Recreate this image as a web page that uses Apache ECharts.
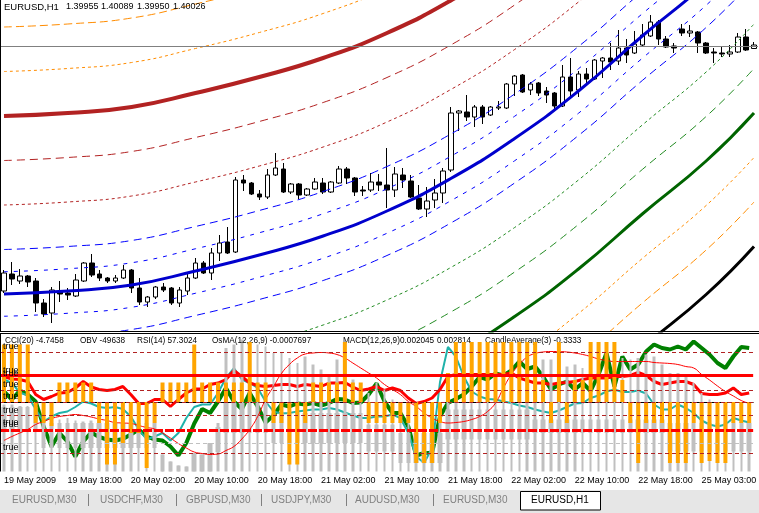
<!DOCTYPE html>
<html>
<head>
<meta charset="utf-8">
<script src="https://cdn.jsdelivr.net/npm/echarts@6/dist/echarts.min.js"></script>
<style>
html,body{margin:0;padding:0;background:#fff;overflow:hidden}
#chart{width:759px;height:513px}
</style>
</head>
<body>
<div id="chart"></div>
<script>
// ---------- categories (hourly bars, weekend skipped) ----------
const tradingDays = [['19 May',10,23],['20 May',0,23],['21 May',0,23],['22 May',0,22],['25 May',0,9]];
const categories = [];
tradingDays.forEach(function(d){for(let h=d[1];h<=d[2];h++)categories.push(d[0]+' '+(h<10?'0':'')+h+':00');});
const tickLabels = ['19 May 2009','19 May 18:00','20 May 02:00','20 May 10:00','20 May 18:00','21 May 02:00',
  '21 May 10:00','21 May 18:00','22 May 02:00','22 May 10:00','22 May 18:00','25 May 03:00'];

// ---------- EURUSD H1 candles ----------
const openP = [1.3511,1.3545,1.3531,1.3541,1.3531,1.3487,1.3467,1.3509,1.3507,1.3501,
 1.3531,1.3567,1.3545,1.3537,1.3531,1.3537,1.3553,1.3517,1.3489,1.3499,
 1.3519,1.3517,1.3487,1.3511,1.3537,1.3567,1.3547,1.3587,1.3609,1.3589,
 1.3733,1.3727,1.3705,1.3699,1.3743,1.3755,1.3709,1.3725,1.3703,1.3715,
 1.3727,1.3709,1.3727,1.3755,1.3737,1.3713,1.3713,1.3729,1.3723,1.3713,
 1.3743,1.3731,1.3697,1.3675,1.3693,1.3707,1.3753,1.3867,1.3869,1.3859,
 1.3879,1.3863,1.3877,1.3877,1.3925,1.3943,1.3913,1.3927,1.3911,1.3907,
 1.3881,1.3939,1.3913,1.3945,1.3935,1.3971,1.3977,1.3971,1.3997,1.3987,
 1.4003,1.4021,1.4049,1.4015,1.4001,1.4035,1.4027,1.4029,1.4007,1.3989,
 1.3987,1.3985,1.3989,1.4019,1.3996];
const closeP = [1.3547,1.3535,1.3541,1.3529,1.3487,1.3465,1.3513,1.3505,1.3503,1.3533,
 1.3567,1.3543,1.3537,1.3531,1.3537,1.3553,1.3517,1.3489,1.3499,1.3519,
 1.3513,1.3487,1.3513,1.3537,1.3567,1.3547,1.3587,1.3607,1.3587,1.3733,
 1.3727,1.3705,1.3699,1.3743,1.3757,1.3709,1.3725,1.3703,1.3715,1.3729,
 1.3709,1.3729,1.3755,1.3737,1.3709,1.3711,1.3729,1.3723,1.3713,1.3745,
 1.3733,1.3699,1.3675,1.3691,1.3707,1.3751,1.3867,1.3871,1.3859,1.3879,
 1.3859,1.3879,1.3879,1.3925,1.3941,1.3909,1.3925,1.3907,1.3903,1.3881,
 1.3939,1.3911,1.3945,1.3935,1.3973,1.3977,1.3969,1.3997,1.3983,1.4005,
 1.4023,1.4049,1.4015,1.3999,1.3997,1.4027,1.4031,1.4007,1.3987,1.3987,
 1.3985,1.3989,1.4019,1.3993,1.4003];
const lowP = [1.3507,1.3523,1.3525,1.3519,1.3469,1.3459,1.3447,1.3489,1.3493,1.3499,
 1.3529,1.3539,1.3531,1.3527,1.3527,1.3535,1.3507,1.3483,1.3479,1.3495,
 1.3509,1.3483,1.3479,1.3503,1.3535,1.3545,1.3533,1.3571,1.3585,1.3587,
 1.3711,1.3703,1.3693,1.3695,1.3741,1.3707,1.3705,1.3695,1.3701,1.3713,
 1.3705,1.3707,1.3725,1.3725,1.3701,1.3701,1.3709,1.3711,1.3677,1.3699,
 1.3717,1.3697,1.3673,1.3659,1.3677,1.3687,1.3749,1.3831,1.3851,1.3839,
 1.3845,1.3861,1.3873,1.3875,1.3901,1.3907,1.3903,1.3901,1.3887,1.3873,
 1.3879,1.3901,1.3899,1.3925,1.3933,1.3937,1.3953,1.3963,1.3967,1.3985,
 1.3999,1.4019,1.4003,1.3997,1.3987,1.4021,1.4019,1.3987,1.3985,1.3967,
 1.3979,1.3979,1.3987,1.3991,1.3995];
const highP = [1.3553,1.3569,1.3555,1.3543,1.3537,1.3495,1.3519,1.3531,1.3517,1.3545,
 1.3569,1.3585,1.3553,1.3539,1.3543,1.3563,1.3555,1.3537,1.3501,1.3521,
 1.3527,1.3519,1.3519,1.3547,1.3577,1.3571,1.3597,1.3623,1.3639,1.3739,
 1.3743,1.3729,1.3713,1.3755,1.3787,1.3767,1.3727,1.3727,1.3717,1.3737,
 1.3737,1.3731,1.3761,1.3759,1.3739,1.3721,1.3747,1.3745,1.3797,1.3759,
 1.3757,1.3743,1.3723,1.3719,1.3735,1.3757,1.3879,1.3873,1.3903,1.3883,
 1.3883,1.3881,1.3891,1.3927,1.3943,1.3945,1.3929,1.3929,1.3919,1.3909,
 1.3963,1.3977,1.3951,1.3957,1.3975,1.3979,1.4007,1.4033,1.4015,1.4031,
 1.4045,1.4063,1.4053,1.4021,1.4007,1.4045,1.4043,1.4031,1.4009,1.3997,
 1.3999,1.4003,1.4027,1.4035,1.4009];
const bidPrice = 1.40026;

// ---------- regression curve (read every 8 bars) and band multipliers ----------
const centerIdx = [0,8,16,24,32,40,48,56,64,72,80,88,94];
const centerVal = [1.3505,1.3511,1.3523,1.3551,1.3583,1.3621,1.3671,1.3736,1.3816,1.3911,1.4021,1.4127,1.4223];
const bandStep = 0.0089;
const bandMult = [6,5,4,3,2,1,0.5,-0.5,-1,-2,-3,-4,-5,-6,-7,0];

// ---------- sub window (indicator units) ----------
const orangeHist = [115,115,115,115,-42,-42,-48,39,39,39,
 39,39,-42,-125,-125,-82,-62,-62,-132,-42,
 39,39,39,39,115,39,39,39,39,39,
 39,120,39,39,-42,-42,-125,-125,-42,39,
 39,39,39,120,39,39,-42,-42,-42,-42,
 -42,-42,-122,-122,-122,-42,58,120,120,120,
 120,120,120,120,120,120,120,120,44,-42,
 120,-42,44,44,120,120,120,120,44,-42,
 -122,-42,-42,-42,-122,-122,-122,-42,-122,-118,
 -122,-122,-42,-42,-42];
const grayTop = [-5,-5,-8,-8,0,-35,-42,-35,-32,-37,
 -39,-37,-39,-35,-39,-42,-39,-37,-42,-39,
 -105,-119,-127,-129,-102,-105,-82,-42,108,115,
 125,118,115,111,98,98,88,78,91,75,
 65,55,85,98,45,25,18,38,25,5,
 -2,-15,-42,-62,-55,-22,38,65,98,101,
 78,98,85,88,81,105,98,85,85,85,
 98,71,75,68,88,72,72,75,88,85,
 88,95,91,75,58,58,55,38,18,5,
 -15,-22,-35,-38,-42];
const grayBodyTop = [-10,-10,-10,-10,-10,-42,-42,-42,-42,-42,
 -42,-42,-42,-42,-42,-42,-42,-42,-42,-42,
 -105,-119,-127,-129,-102,-105,-82,-50,-2,-2,
 -2,-2,-2,-2,-22,-22,-22,-22,-22,-22,
 -22,-22,-22,-22,-22,-22,-45,-45,-45,-45,
 -62,-62,-62,-62,-62,-62,-15,-15,-15,-15,
 -15,-15,-15,-15,-15,-15,-15,-35,-35,-35,
 -35,-35,-35,-35,-35,-35,-35,-35,-35,-35,
 -35,-35,-35,-35,-42,-42,-42,-42,-42,-42,
 -42,-42,-42,-42,-42];
const grayBodyBot = [-60,-60,-60,-60,-60,-92,-92,-92,-92,-92,
 -92,-92,-92,-92,-92,-92,-92,-92,-92,-92,
 -139,-139,-139,-139,-139,-139,-139,-100,-62,-62,
 -62,-62,-62,-62,-82,-82,-82,-82,-82,-82,
 -82,-82,-82,-82,-82,-82,-99,-99,-99,-99,
 -122,-122,-122,-122,-122,-122,-75,-75,-75,-75,
 -75,-75,-75,-75,-75,-75,-75,-62,-62,-62,
 -62,-62,-62,-62,-62,-62,-62,-62,-62,-62,
 -62,-62,-62,-62,-99,-99,-99,-99,-99,-99,
 -99,-99,-99,-99,-99];
const cciLine = [21,5,23,15,1,-49,-89,-62,-79,-109,
 -79,-61,-70,-75,-77,-74,-65,-55,-69,-75,
 -77,-89,-107,-82,-43,-14,-22,1,28,1,
 -14,18,-9,-41,-27,-5,-9,-3,-5,-2,
 -7,-2,6,5,-2,-1,15,37,1,-22,
 -22,-49,-107,-102,-102,-29,-2,6,15,31,
 50,45,57,53,63,81,66,71,51,25,
 35,41,25,38,22,55,98,31,91,65,
 75,101,115,108,105,111,105,121,108,95,
 78,68,91,110,108];
const obvLine = [45,38,19,13,-15,-39,-29,-22,-19,-10,
 1,-3,-10,-12,-10,-14,-29,-55,-75,-69,
 -62,-77,-62,-32,-10,-5,-5,18,48,68,
 45,38,28,1,-19,-23,-22,-19,-17,-15,
 -15,-12,-15,-21,-27,-32,-32,-29,-29,-25,
 -32,-62,-109,-122,-92,40,110,91,51,21,
 11,6,5,1,-2,-7,-10,-15,-19,-22,
 -17,-10,-3,-2,8,13,21,25,20,20,
 23,17,-5,-15,-15,-5,-12,-22,-37,-45,
 -49,-45,-32,-37,-41];
const rsiLine = [51,46,45,41,15,5,11,18,19,28,
 41,30,25,23,25,31,15,-3,-3,5,
 5,-9,5,18,26,26,35,38,45,63,
 51,38,33,31,33,35,35,31,35,33,
 31,38,38,39,30,23,26,31,23,28,
 23,8,-3,1,8,25,51,55,55,55,
 55,55,55,55,58,48,43,38,38,35,
 38,39,41,45,48,48,48,51,51,53,
 59,53,41,35,38,41,41,35,17,15,
 15,18,28,15,18];
const signalLine = [-77,-69,-62,-55,-45,-39,-33,-29,-27,-25,
 -27,-30,-34,-37,-41,-42,-43,-47,-51,-54,
 -62,-72,-83,-92,-100,-103,-105,-104,-97,-89,
 -74,-55,-29,5,31,57,75,88,96,98,
 99,98,95,88,78,68,58,48,35,25,
 15,1,-9,-22,-32,-39,-42,-41,-39,-35,
 -29,-19,-2,28,55,75,90,97,100,101,
 101,100,98,95,91,86,83,81,81,81,
 81,81,79,78,77,75,71,68,55,44,
 32,21,12,3,-3];
const levelDashed = [100,24,0,-26,-102];
const levelSolid = 54;
const levelThickDashed = -56;
const levelGray = -82;
const subMin = -139, subMax = 136;

// ---------- styles for the bands ----------
const bandStyles = [
 {color:'#FF8C00', width:1, type:[8,4]},
 {color:'#FF8C00', width:1, type:[3,3]},
 {color:'#B22222', width:4, type:'solid'},
 {color:'#B22222', width:1, type:[8,5]},
 {color:'#B22222', width:1, type:[3,3]},
 {color:'#0000FF', width:1, type:[8,5]},
 {color:'#0000FF', width:1, type:[4,6]},
 {color:'#0000FF', width:1, type:[4,6]},
 {color:'#0000FF', width:1, type:[8,5]},
 {color:'#228B22', width:1, type:[3,3]},
 {color:'#228B22', width:1, type:[8,5]},
 {color:'#006400', width:3, type:'solid'},
 {color:'#FF8C00', width:1, type:[3,3]},
 {color:'#FF8C00', width:1, type:[8,4]},
 {color:'#000000', width:3, type:'solid'},
 {color:'#0000CD', width:3, type:'solid'}
];

function bandData(k){
  const d = categories.map(function(){return null;});
  centerIdx.forEach(function(ix,j){ d[ix] = +(centerVal[j] + k*bandStep).toFixed(5); });
  return d;
}

const FONT = 'Liberation Sans';
const series = [];

// main: candles
series.push({
  type:'candlestick', xAxisIndex:0, yAxisIndex:0, z:2, barWidth:5,
  data: openP.map(function(o,i){return [o, closeP[i], lowP[i], highP[i]];}),
  itemStyle:{color:'#ffffff', color0:'#000000', borderColor:'#000000', borderColor0:'#000000', borderWidth:1},
  markLine:{silent:true, symbol:['none','none'], label:{show:false}, animation:false,
    lineStyle:{color:'#808080', width:1, type:'solid'}, data:[{yAxis:bidPrice}]}
});
// main: bands
bandMult.forEach(function(k,j){
  const s = bandStyles[j];
  series.push({type:'line', xAxisIndex:0, yAxisIndex:0, z:3, smooth:0.5, connectNulls:true,
    showSymbol:false, silent:true, data:bandData(k),
    lineStyle:{color:s.color, width:s.width, type:s.type}});
});

// sub: lines
series.push({type:'line', xAxisIndex:1, yAxisIndex:1, z:1, showSymbol:false, silent:true, data:cciLine,
  lineStyle:{color:'#008000', width:4}});
series.push({type:'line', xAxisIndex:1, yAxisIndex:1, z:1, showSymbol:false, silent:true, data:obvLine,
  lineStyle:{color:'#20B2AA', width:2}});
series.push({type:'line', xAxisIndex:1, yAxisIndex:1, z:1, showSymbol:false, silent:true, data:rsiLine,
  lineStyle:{color:'#FF0000', width:3}});
// sub: gray histograms
const grayStyle = {color:'#C0C0C0', color0:'#C0C0C0', borderColor:'#C0C0C0', borderColor0:'#C0C0C0', borderWidth:0};
series.push({type:'candlestick', xAxisIndex:1, yAxisIndex:1, z:2, barWidth:3, silent:true,
  data: grayTop.map(function(t){return [subMin, t, subMin, t];}), itemStyle:grayStyle});
series.push({type:'candlestick', xAxisIndex:1, yAxisIndex:1, z:2, barWidth:5, silent:true,
  data: grayBodyTop.map(function(t,i){return [grayBodyBot[i], t, grayBodyBot[i], t];}), itemStyle:grayStyle});
// sub: thin signal line
series.push({type:'line', xAxisIndex:1, yAxisIndex:1, z:3, showSymbol:false, silent:true, smooth:true, data:signalLine,
  lineStyle:{color:'#FF0000', width:1}});
// sub: orange histogram + levels
const levelData = levelDashed.map(function(v){return {yAxis:v, lineStyle:{color:'#B22222', width:1, type:[4,3]}};})
  .concat([{yAxis:levelSolid, lineStyle:{color:'#FF0000', width:3, type:'solid'}},
           {yAxis:levelThickDashed, lineStyle:{color:'#FF0000', width:3, type:[9,2]}},
           {yAxis:levelGray, lineStyle:{color:'#C0C0C0', width:1, type:[4,3]}}]);
series.push({type:'bar', xAxisIndex:1, yAxisIndex:1, z:4, barWidth:4, silent:true, data:orangeHist,
  itemStyle:{color:'#FFA500'},
  markLine:{silent:true, z:6, symbol:['none','none'], label:{show:false}, animation:false, data:levelData}});

// ---------- graphic texts / frame ----------
function txt(t,x,y,size,color,z){
  return {type:'text', x:x, y:y, z:z||10, silent:true,
    style:{text:t, fill:color||'#000', fontSize:size||9, fontFamily:FONT, align:'left', verticalAlign:'middle'}};
}
function ln(x1,y1,x2,y2,c,z){
  return {type:'line', z:z||10, silent:true, shape:{x1:x1,y1:y1,x2:x2,y2:y2}, style:{stroke:c||'#000', lineWidth:1}};
}
const graphics = [];
// title
graphics.push(txt('EURUSD,H1',4,7,9.5));
graphics.push(txt('1.39955',66,7)); graphics.push(txt('1.40089',101,7));
graphics.push(txt('1.39950',137,7)); graphics.push(txt('1.40026',173,7));
// sub header (below histograms)
[['CCI(20) -4.7458',5],['OBV -49638',80],['RSI(14) 57.3024',137],['OsMA(12,26,9) -0.0007697',212],
 ['MACD(12,26,9)',343],['0.002045',400],['0.002814',437],['CandleAverage(3) -0.3333',485]]
 .forEach(function(p){graphics.push(txt(p[0],p[1],341,8.2,'#000',3));});
// "true" labels
[347,371,373.5,385,396.5,410.5,422.5,425,448].forEach(function(y){graphics.push(txt('true',3,y,9,'#000',12));});
// frames
graphics.push(ln(0.5,0,0.5,331.5));
graphics.push(ln(0,331.5,759,331.5));
graphics.push(ln(0,333.5,759,333.5));
graphics.push(ln(0.5,333.5,0.5,471.5));
// tab bar
graphics.push({type:'rect', z:1, silent:true, shape:{x:0,y:490,width:759,height:23}, style:{fill:'#E6E6E6'}});
[88,176,261,346,433].forEach(function(x){graphics.push(ln(x+0.5,494,x+0.5,506,'#808080',11));});
graphics.push({type:'rect', z:11, silent:true, shape:{x:520.5,y:491.5,width:80,height:18.5}, style:{fill:'#ffffff', stroke:'#000000', lineWidth:1}});
[['EURUSD,M30',12],['USDCHF,M30',100],['GBPUSD,M30',186],['USDJPY,M30',271],['AUDUSD,M30',355],['EURUSD,M30',443]]
 .forEach(function(p){graphics.push(txt(p[0],p[1],500,10,'#808080',12));});
graphics.push(txt('EURUSD,H1',531,500,10,'#000',12));

const chart = echarts.init(document.getElementById('chart'), null, {renderer:'canvas'});
chart.setOption({
  animation:false,
  backgroundColor:'#ffffff',
  grid:[{left:-2, width:760, top:0, height:331}, {left:-2, width:760, top:334, height:137.5}],
  xAxis:[
    {type:'category', gridIndex:0, data:categories, boundaryGap:true, show:false},
    {type:'category', gridIndex:1, data:categories, boundaryGap:true,
     axisLine:{lineStyle:{color:'#000', width:1}},
     axisTick:{interval:7, alignWithLabel:true, length:4, lineStyle:{color:'#000'}},
     axisLabel:{interval:7, align:'left', margin:5, fontSize:9, fontFamily:FONT, color:'#000',
       formatter:function(v,idx){return tickLabels[Math.round(idx/8)] || v;}},
     splitLine:{show:false}}
  ],
  yAxis:[
    {type:'value', gridIndex:0, min:1.3431, max:1.4093, show:false},
    {type:'value', gridIndex:1, min:subMin, max:subMax, show:false}
  ],
  series:series,
  graphic:graphics
});
</script>
</body>
</html>
